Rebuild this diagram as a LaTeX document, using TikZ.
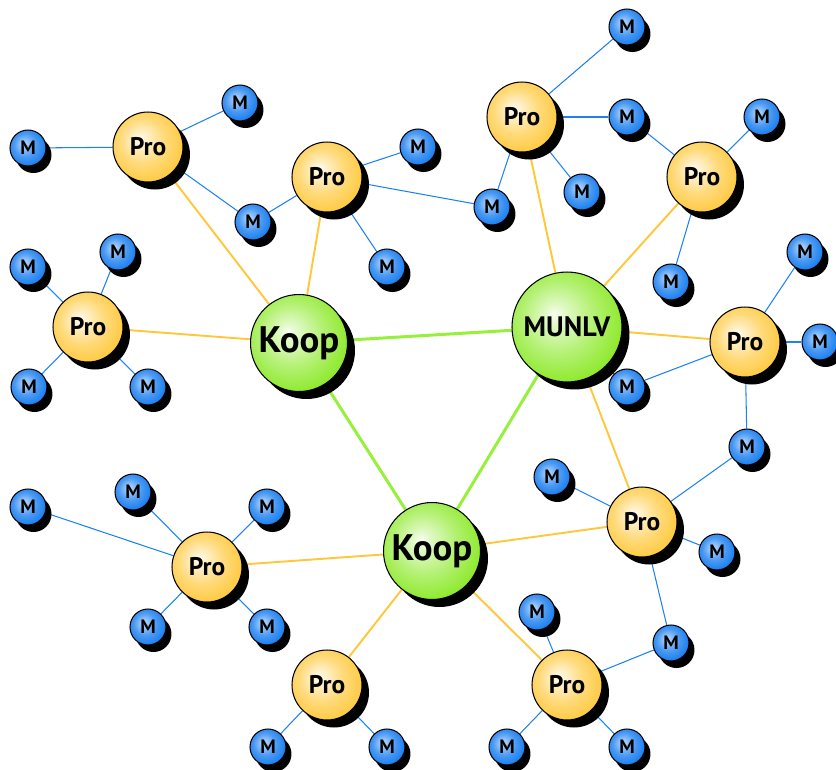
\documentclass[tikz,border=0pt]{standalone}
\usepackage{fontspec}
\setmainfont{PT Sans}
\usetikzlibrary{shadows,backgrounds}

\definecolor{proyl}{RGB}{255,204,72}
\definecolor{koopgn}{RGB}{146,234,52}
\definecolor{membl}{RGB}{28,128,240}
\definecolor{proline}{RGB}{255,200,60}
\definecolor{koopline}{RGB}{150,240,60}
\definecolor{memline}{RGB}{30,130,240}

\pgfdeclareradialshading{proball}{\pgfqpoint{-6bp}{6bp}}{color(0bp)=(proyl!5!white); color(4bp)=(proyl!25!white); color(16bp)=(proyl!72!white); color(27bp)=(proyl); color(33bp)=(proyl!90!black); color(50bp)=(proyl!90!black)}
\pgfdeclareradialshading{koopball}{\pgfqpoint{-6bp}{6bp}}{color(0bp)=(koopgn!5!white); color(4bp)=(koopgn!25!white); color(16bp)=(koopgn!68!white); color(27bp)=(koopgn); color(33bp)=(koopgn!90!black); color(50bp)=(koopgn!90!black)}
\pgfdeclareradialshading{memball}{\pgfqpoint{-6bp}{6bp}}{color(0bp)=(membl!25!white); color(5bp)=(membl!45!white); color(16bp)=(membl!80!white); color(27bp)=(membl); color(33bp)=(membl!85!black); color(50bp)=(membl!85!black)}

\begin{document}
\begin{tikzpicture}[x=0.02cm,y=-0.02cm,
    ball/.style={circle, draw=black, line width=0.6pt, inner sep=0pt, font=\bfseries},
    koop/.style={ball, shading=koopball, minimum size=1.94cm,
      font=\bfseries\fontsize{21}{21}\selectfont,
      drop shadow={shadow xshift=0.15cm, shadow yshift=-0.15cm, fill=black, opacity=1}},
    pro/.style={ball, shading=proball, minimum size=1.4cm,
      font=\bfseries\fontsize{14.5}{14.5}\selectfont,
      drop shadow={shadow xshift=0.14cm, shadow yshift=-0.15cm, fill=black, opacity=1}},
    mem/.style={ball, shading=memball, minimum size=0.72cm,
      font=\bfseries\fontsize{11}{11}\selectfont,
      drop shadow={shadow xshift=0.11cm, shadow yshift=-0.14cm, fill=black, opacity=1}},
    prolink/.style={every edge/.style={draw=proline, line width=1.1pt}},
    kooplink/.style={every edge/.style={draw=koopline, line width=1.7pt}},
    memlink/.style={every edge/.style={draw=memline, line width=0.6pt}}]
    \useasboundingbox (0,0) rectangle (836,769);

    % Koop / MUNLV
    \node[koop]                     (K1) at (299,343) {Koop};
    \node[koop]                     (K2) at (432,551) {Koop};
    \node[koop, minimum size=2.2cm,
      font=\bfseries\fontsize{16}{16}\selectfont] (MU) at (567,327) {MUNLV};

    % Pro
    \node[pro] (P1)  at (148,147) {Pro};
    \node[pro] (P2)  at (327,177) {Pro};
    \node[pro] (P3)  at (522,117) {Pro};
    \node[pro] (P4)  at (702,177) {Pro};
    \node[pro] (P5)  at (88,327)  {Pro};
    \node[pro] (P6)  at (745,342) {Pro};
    \node[pro] (P7)  at (642,522) {Pro};
    \node[pro] (P8)  at (207,567) {Pro};
    \node[pro] (P9)  at (327,685) {Pro};
    \node[pro] (P10) at (567,685) {Pro};

    % M
    \node[mem] (M1)  at (28,148)  {M};
    \node[mem] (M2)  at (240,103) {M};
    \node[mem] (M3)  at (253,222) {M};
    \node[mem] (M4)  at (418,147) {M};
    \node[mem] (M5)  at (492,207) {M};
    \node[mem] (M6)  at (387,267) {M};
    \node[mem] (M7)  at (627,27)  {M};
    \node[mem] (M8)  at (627,117) {M};
    \node[mem] (M9)  at (582,192) {M};
    \node[mem] (M10) at (762,117) {M};
    \node[mem] (M11) at (671,282) {M};
    \node[mem] (M12) at (28,267)  {M};
    \node[mem] (M13) at (118,252) {M};
    \node[mem] (M14) at (29,387)  {M};
    \node[mem] (M15) at (148,387) {M};
    \node[mem] (M16) at (805,252) {M};
    \node[mem] (M17) at (820,342) {M};
    \node[mem] (M18) at (627,387) {M};
    \node[mem] (M19) at (747,447) {M};
    \node[mem] (M20) at (552,477) {M};
    \node[mem] (M21) at (717,552) {M};
    \node[mem] (M22) at (671,643) {M};
    \node[mem] (M23) at (28,507)  {M};
    \node[mem] (M24) at (133,492) {M};
    \node[mem] (M25) at (267,507) {M};
    \node[mem] (M26) at (148,627) {M};
    \node[mem] (M27) at (267,627) {M};
    \node[mem] (M28) at (268,747) {M};
    \node[mem] (M29) at (387,747) {M};
    \node[mem] (M30) at (537,612) {M};
    \node[mem] (M31) at (507,747) {M};
    \node[mem] (M32) at (627,747) {M};

    \begin{scope}[on background layer]
    \path[kooplink]
      (K1) edge (MU) edge (K2)
      (MU) edge (K2);
    \path[prolink]
      (K1) edge (P1) edge (P2) edge (P5)
      (MU) edge (P3) edge (P4) edge (P6) edge (P7)
      (K2) edge (P7) edge (P8) edge (P9) edge (P10);
    \path[memlink]
      (P1) edge (M1) edge (M2) edge (M3)
      (P2) edge (M3) edge (M4) edge (M5) edge (M6)
      (P3) edge (M5) edge (M7) edge (M8) edge (M9)
      (P4) edge (M8) edge (M10) edge (M11)
      (P5) edge (M12) edge (M13) edge (M14) edge (M15)
      (P6) edge (M16) edge (M17) edge (M18) edge (M19)
      (MU) edge (M18)
      (P7) edge (M19) edge (M20) edge (M21) edge (M22)
      (P8) edge (M23) edge (M24) edge (M25) edge (M26) edge (M27)
      (P9) edge (M28) edge (M29)
      (P10) edge (M22) edge (M30) edge (M31) edge (M32);
    \end{scope}
  \end{tikzpicture}
\end{document}
